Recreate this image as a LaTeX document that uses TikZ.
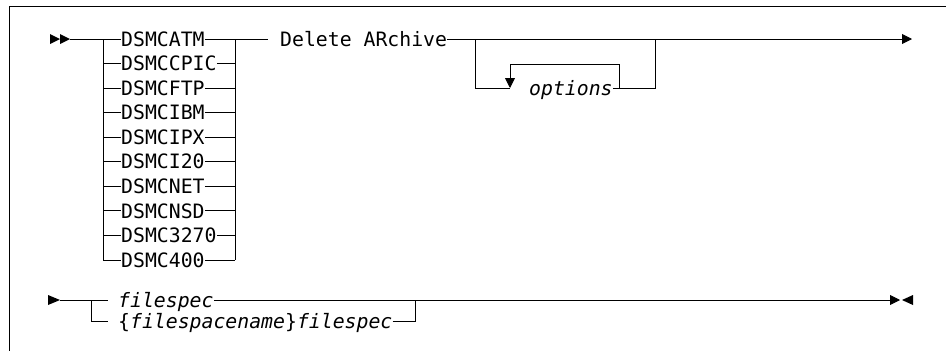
\documentclass[tikz,border=0pt]{standalone}
\usepackage{fontspec}
\setmonofont{DejaVu Sans Mono}
\usetikzlibrary{arrows.meta}

\tikzset{
  kw/.style={anchor=west,inner sep=0pt,text height=14.4pt,text depth=0pt,
    font=\ttfamily\fontsize{19.8}{22}\selectfont},
  var/.style={kw,font=\ttfamily\itshape\fontsize{19.8}{22}\selectfont},
  rail/.style={line width=.9pt},
  railend/.style={rail,-{Triangle[length=10pt,width=10pt]}},
}

\begin{document}
\begin{tikzpicture}[x=1pt,y=-1pt]
 \useasboundingbox (0,0) rectangle (946,351);
 % frame
 \draw[line width=1.2pt] (9.5,351) -- (9.5,6.5) -- (946,6.5);

 % first line: program choice
 \coordinate (s1) at (50,39);
 \coordinate (s1e) at (70,39);
 \fill (s1) ++(0,-5) -- ++(10,5) -- ++(-10,5) -- cycle;
 \fill (s1) ++(10,-5) -- ++(10,5) -- ++(-10,5) -- cycle;
 \coordinate (lrail) at (103,39);
 \coordinate (rrail) at (235,39);
 \foreach \prog [count=\i] in {DSMCATM,DSMCCPIC,DSMCFTP,DSMCIBM,DSMCIPX,DSMCI20,DSMCNET,DSMCNSD,DSMC3270,DSMC400}
   \node[kw] (c\i) at (121,{39+24.55*(\i-1)}) {\prog};
 \draw[rail] (s1e) -- (c1.west);
 \foreach \i in {2,...,10}
   \draw[rail] (lrail |- c\i.west) -- (c\i.west);
 \foreach \i in {1,...,10}
   \draw[rail] (c\i.east) -- (rrail |- c\i.east);
 \draw[rail] (lrail) -- (lrail |- c10.west);
 \draw[rail] (rrail) -- (rrail |- c10.east);

 \node[kw] (del) at (280,39) {Delete ARchive};
 \draw[rail] (rrail) -- ([xshift=-12pt]del.west);
 \coordinate (end1) at (912,39);
 \draw[railend] (del.east) -- (end1);

 % repeatable options
 \coordinate (oL) at (475,39);
 \coordinate (oR) at (655,39);
 \coordinate (loopL) at (510,88);
 \coordinate (loopR) at (619,88);
 \node[var] (opt) at (529,88) {options};
 \draw[rail] (oL) |- (loopL);
 \draw[railend] (loopR) -- ++(0,-24) -| (loopL);
 \draw[rail] (opt.east) -- (oR |- opt.east) -- (oR);

 % second line: file specification
 \coordinate (s2) at (48,300);
 \coordinate (s2e) at (60,300);
 \fill (s2) ++(0,-5) -- ++(12,5) -- ++(-12,5) -- cycle;
 \coordinate (bL) at (91,300);
 \coordinate (bR) at (415,300);
 \node[var] (f1) at (118,300) {filespec};
 \node[var] (f2) at (118,321) {\textup{\{}filespacename\textup{\}}filespec};
 \draw[rail] (s2e) -- ([xshift=-10pt]f1.west);
 \draw[rail] (bL) |- ([xshift=-10pt]f2.west);
 \draw[rail] (f2.east) -| (bR);
 \coordinate (end2) at (900,300);
 \draw[railend] (f1.east) -- (end2);
 \fill (end2) ++(13,-5) -- ++(-11,5) -- ++(11,5) -- cycle;
\end{tikzpicture}
\end{document}
